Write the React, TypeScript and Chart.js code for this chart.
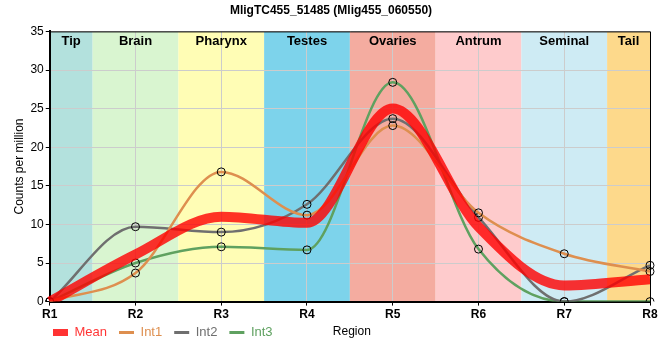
import React, { useEffect, useRef } from "react";
import { Chart, registerables } from "chart.js";

Chart.register(...registerables);

const regions = ["R1", "R2", "R3", "R4", "R5", "R6", "R7", "R8"];
const meanValues = [0, 6.1, 11.0, 10.2, 25.0, 9.7, 2.1, 2.9];
const int1Values = [0, 3.7, 16.8, 11.2, 22.8, 11.5, 6.2, 3.9];
const int2Values = [0, 9.7, 9.0, 12.6, 23.7, 10.9, 0, 4.7];
const int3Values = [0, 5.0, 7.1, 6.7, 28.4, 6.8, 0, 0];

const bandNames = ["Tip", "Brain", "Pharynx", "Testes", "Ovaries", "Antrum", "Seminal", "Tail"];
const bandStart = [0, 0.5, 1.5, 2.5, 3.5, 4.5, 5.5, 6.5];
const bandEnd = [0.5, 1.5, 2.5, 3.5, 4.5, 5.5, 6.5, 7];
const bandColors = ["#B3E1DD", "#D9F5D0", "#FFFDB5", "#7DD3EB", "#F4ACA0", "#FECBCC", "#CEEBF4", "#FDD98B"];

const FONT = "'Liberation Sans', Arial, sans-serif";

const MEAN_COLOR = "rgba(255,0,0,0.8)";
const INT1_COLOR = "#DE8F4F";
const INT2_COLOR = "#6F6F6F";
const INT3_COLOR = "#5FA160";

const bandPlugin = {
  id: "bands",
  beforeDraw(chart: any) {
    const { ctx, chartArea, scales } = chart;
    const x = scales.x;
    const pix = (v: number) => {
      const lo = Math.floor(v);
      const hi = Math.ceil(v);
      const pl = x.getPixelForValue(lo);
      const ph = x.getPixelForValue(hi);
      return pl + (ph - pl) * (v - lo);
    };
    ctx.save();
    for (let i = 0; i < bandNames.length; i++) {
      const x0 = pix(bandStart[i]);
      const x1 = pix(bandEnd[i]);
      ctx.fillStyle = bandColors[i];
      ctx.fillRect(x0, chartArea.top, x1 - x0, chartArea.bottom - chartArea.top);
    }
    ctx.restore();
  },
  beforeDatasetsDraw(chart: any) {
    const { ctx, chartArea, scales } = chart;
    const x = scales.x;
    const pix = (v: number) => {
      const lo = Math.floor(v);
      const hi = Math.ceil(v);
      const pl = x.getPixelForValue(lo);
      const ph = x.getPixelForValue(hi);
      return pl + (ph - pl) * (v - lo);
    };
    ctx.save();
    ctx.fillStyle = "#000";
    ctx.font = "bold 13px " + FONT;
    ctx.textAlign = "center";
    ctx.textBaseline = "middle";
    for (let i = 0; i < bandNames.length; i++) {
      const cx = (pix(bandStart[i]) + pix(bandEnd[i])) / 2;
      ctx.fillText(bandNames[i], cx, chartArea.top + 10);
    }
    ctx.restore();
  },
  afterDraw(chart: any) {
    const { ctx, chartArea } = chart;
    ctx.save();
    ctx.strokeStyle = "#000";
    ctx.lineWidth = 1;
    ctx.beginPath();
    ctx.moveTo(chartArea.left, chartArea.top + 0.5);
    ctx.lineTo(chartArea.right + 0.5, chartArea.top + 0.5);
    ctx.lineTo(chartArea.right + 0.5, chartArea.bottom);
    ctx.stroke();
    ctx.fillStyle = "#000";
    ctx.font = "12px " + FONT;
    ctx.textAlign = "center";
    ctx.textBaseline = "middle";
    ctx.fillText("Region", (chartArea.left + chartArea.right) / 2 + 2, 332);
    ctx.restore();
  },
  afterLayout(chart: any) {
    const lg = chart.legend;
    if (lg) {
      const w = lg.right - lg.left;
      lg.left = 41;
      lg.right = 41 + w;
      const h = lg.bottom - lg.top;
      lg.top = 314;
      lg.bottom = 314 + h;
    }
  },
};

export default function App() {
  const ref = useRef<HTMLCanvasElement | null>(null);
  useEffect(() => {
    document.body.style.margin = "0";
    const canvas = ref.current;
    if (!canvas) return;
    const pointCfg = {
      pointRadius: 4,
      pointHoverRadius: 4,
      pointBackgroundColor: "rgba(0,0,0,0)",
      pointBorderColor: "#000",
      pointBorderWidth: 1,
    };
    const chart = new Chart(canvas, {
      type: "line",
      data: {
        labels: regions,
        datasets: [
          {
            label: "Mean",
            data: meanValues,
            borderColor: MEAN_COLOR,
            backgroundColor: MEAN_COLOR,
            borderWidth: 10,
            pointRadius: 0,
            cubicInterpolationMode: "monotone",
            fill: false,
          },
          {
            label: "Int1",
            data: int1Values,
            borderColor: INT1_COLOR,
            backgroundColor: INT1_COLOR,
            borderWidth: 2.5,
            cubicInterpolationMode: "monotone",
            fill: false,
            ...pointCfg,
          },
          {
            label: "Int2",
            data: int2Values,
            borderColor: INT2_COLOR,
            backgroundColor: INT2_COLOR,
            borderWidth: 2.5,
            cubicInterpolationMode: "monotone",
            fill: false,
            ...pointCfg,
          },
          {
            label: "Int3",
            data: int3Values,
            borderColor: INT3_COLOR,
            backgroundColor: INT3_COLOR,
            borderWidth: 2.5,
            cubicInterpolationMode: "monotone",
            fill: false,
            ...pointCfg,
          },
        ],
      },
      options: {
        responsive: false,
        animation: false,
        layout: { padding: { left: 12, right: 10, top: 0, bottom: 1 } },
        plugins: {
          title: {
            display: true,
            text: "MligTC455_51485 (Mlig455_060550)",
            color: "#000",
            font: { family: FONT, size: 12, weight: "bold" },
            padding: { top: 3, bottom: 14 },
          },
          tooltip: { enabled: false },
          legend: {
            display: true,
            position: "bottom",
            align: "start",
            labels: {
              usePointStyle: true,
              pointStyleWidth: 15,
              padding: 12,
              font: { family: FONT, size: 13 },
              generateLabels(chart: any) {
                return chart.data.datasets.map((ds: any, i: number) => ({
                  text: ds.label,
                  fillStyle: ds.borderColor,
                  strokeStyle: ds.borderColor,
                  lineWidth: i === 0 ? 7 : 3,
                  pointStyle: "line",
                  fontColor: ds.borderColor,
                  hidden: false,
                  datasetIndex: i,
                }));
              },
            },
          },
        },
        scales: {
          x: {
            grid: { color: "#CCCCCC", tickColor: "#000", tickLength: 4, lineWidth: 1 },
            border: { color: "#000", width: 2 },
            ticks: { color: "#000", font: { family: FONT, size: 12, weight: "bold" }, padding: 2 },
          },
          y: {
            min: 0,
            max: 35,
            grid: { color: "#CCCCCC", tickColor: "#000", tickLength: 4, lineWidth: 1 },
            border: { color: "#000", width: 2 },
            ticks: { stepSize: 5, color: "#000", font: { family: FONT, size: 12 }, padding: 2 },
            title: {
              display: true,
              text: "Counts per million",
              color: "#000",
              font: { family: FONT, size: 12 },
              padding: { top: 0, bottom: 2 },
            },
          },
        },
      },
      plugins: [bandPlugin],
    } as any);
    return () => chart.destroy();
  }, []);
  return (
    <div style={{ width: 660, height: 360 }}>
      <canvas ref={ref} width={660} height={360} style={{ width: 660, height: 360 }} />
    </div>
  );
}
